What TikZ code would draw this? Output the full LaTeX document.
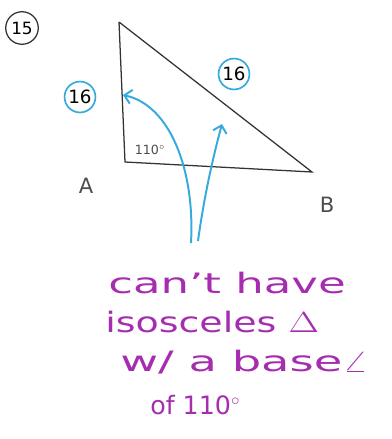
\documentclass[tikz,border=0pt]{standalone}
\usepackage{fontspec}
\setmainfont{DejaVu Sans}
\usetikzlibrary{positioning}
\usetikzlibrary{arrows.meta}
\definecolor{penblue}{RGB}{55,170,220}
\definecolor{penpurple}{RGB}{165,45,175}
\tikzset{
  side/.style={draw=black!80, line width=0.9pt},
  ring/.style={circle, draw=penblue, line width=1.2pt, inner sep=1pt, font=\fontsize{13}{13}\selectfont},
  vname/.style={font=\fontsize{15}{15}\selectfont, text=black!70},
  pointer/.style={penblue, line width=1.4pt, -{Straight Barb[length=5pt]}},
  note/.style={penpurple, font=\fontsize{20}{20}\selectfont, anchor=west, inner sep=0pt}
}

\begin{document}
\begin{tikzpicture}[x=0.25mm, y=-0.25mm]
\useasboundingbox (0,0) rectangle (392,439);
% triangle
\coordinate (C) at (119,22);
\coordinate (A) at (125,162);
\coordinate (B) at (312,172);
\draw[side] (C)--(A)--(B)--(C);
\node[font=\fontsize{9}{9}\selectfont, text=black!70] (ang) at (150,150){110$^\circ$};
\node[vname] (a) at (86,186){A};
\node[vname] (b) at (327,205){B};
% labels
\node[circle, draw=black!80, line width=0.9pt, inner sep=2pt, font=\fontsize{12}{12}\selectfont] (n15) at (22,28){15};
\node[ring] (s1) at (80,97){16};
\node[ring] (s2) at (234,74){16};
% arrows
\coordinate (t1) at (191,243);
\coordinate (t2) at (198,241);
\coordinate (h1) at (123,95);
\coordinate (h2) at (222,124);
\draw[pointer] (t1) .. controls (195,170) and (170,105) .. (h1);
\draw[pointer] (t2) .. controls (205,190) and (215,150) .. (h2);
% note
\node[note] (l1) at (108,283){\scalebox{1.6}[1]{can't have}};
\node[note] (l2) at (105,322){\scalebox{1.35}[1]{isosceles $\Delta$}};
\node[note] (l3) at (120,362){\scalebox{1.65}[1]{w/ a base$\angle$}};
\node[note, font=\fontsize{18}{18}\selectfont] (l4) at (150,405){of 110$^\circ$};
\end{tikzpicture}
\end{document}
